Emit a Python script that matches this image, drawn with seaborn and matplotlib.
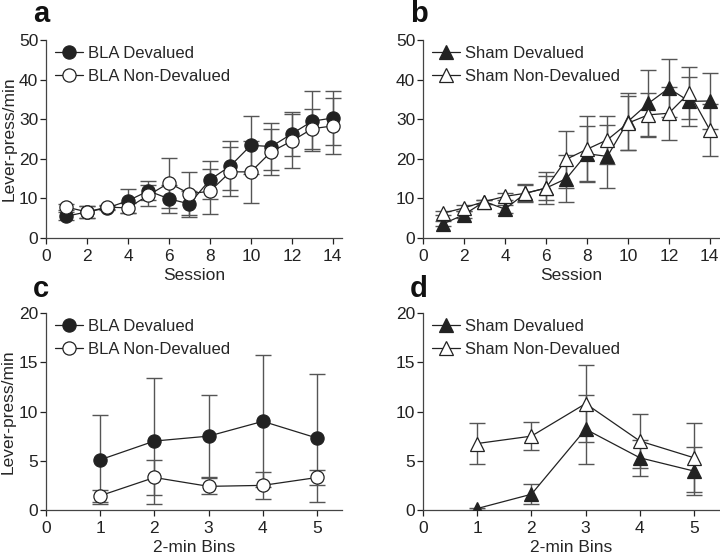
import matplotlib
matplotlib.use("Agg")
import matplotlib.pyplot as plt
import pandas as pd
import seaborn as sns
import numpy as np

sns.set_theme(style="ticks")
plt.rcParams['font.family'] = ['Liberation Sans', 'DejaVu Sans']

# acquisition sessions (panels a, b)
sessions = list(range(1, 15))
bla_dev = [5.5, 6.6, 7.6, 9.4, 11.9, 9.9, 8.6, 14.7, 18.2, 23.4, 23.1, 26.3, 29.5, 30.3]
bla_dev_sem = [1.0, 1.6, 0.5, 3.0, 2.4, 3.6, 3.3, 4.8, 6.2, 7.3, 5.9, 5.5, 7.5, 6.7]
bla_nondev = [7.8, 6.6, 7.8, 7.6, 10.8, 13.9, 11.2, 11.8, 16.7, 16.7, 21.8, 24.5, 27.6, 28.3]
bla_nondev_sem = [0.8, 1.5, 0.6, 1.2, 2.6, 6.3, 5.4, 5.7, 6.2, 7.9, 5.8, 6.9, 5.0, 7.0]

sham_dev = [3.6, 5.9, 9.2, 7.3, 11.3, 12.6, 15.0, 21.3, 20.6, 29.4, 34.0, 37.8, 34.5, 34.6]
sham_dev_sem = [0.6, 0.8, 0.5, 1.0, 2.3, 4.0, 6.0, 7.0, 7.9, 7.2, 8.3, 7.3, 6.2, 7.0]
sham_nondev = [6.3, 7.6, 9.2, 10.5, 11.3, 12.6, 19.9, 22.4, 24.8, 29.0, 31.1, 31.5, 36.7, 27.3]
sham_nondev_sem = [0.5, 0.8, 0.5, 0.8, 2.0, 3.0, 7.2, 8.3, 6.0, 6.8, 5.6, 6.7, 6.6, 6.5]

# extinction test, 2-min bins (panels c, d)
bins = [1, 2, 3, 4, 5]
bla_dev_bin = [5.1, 7.0, 7.5, 9.0, 7.3]
bla_dev_bin_sem = [4.5, 6.4, 4.2, 6.7, 6.5]
bla_nondev_bin = [1.45, 3.3, 2.4, 2.5, 3.3]
bla_nondev_bin_sem = [0.6, 1.8, 0.8, 1.4, 0.8]

sham_dev_bin = [0.15, 1.6, 8.2, 5.3, 3.95]
sham_dev_bin_sem = [0.1, 1.0, 3.5, 1.8, 2.4]
sham_nondev_bin = [6.75, 7.5, 10.8, 7.0, 5.3]
sham_nondev_bin_sem = [2.1, 1.4, 3.9, 2.7, 3.5]

fig = plt.figure(figsize=(7.2, 5.54), dpi=100)
w, h = 296 / 720, 198 / 554
ax_a = fig.add_axes([46 / 720, 316 / 554, w, h])
ax_b = fig.add_axes([423 / 720, 316 / 554, w, h])
ax_c = fig.add_axes([46 / 720, 44 / 554, w, 197 / 554])
ax_d = fig.add_axes([423 / 720, 44 / 554, w, 197 / 554])

ink = "#222222"
err_col = "#555555"


def draw(ax, x, y, sem, label, marker, filled):
    ax.errorbar(x, y, yerr=sem, fmt="none", ecolor=err_col, elinewidth=1,
                capsize=6, capthick=1, zorder=1)
    df = pd.DataFrame({"x": x, "y": y})
    sns.lineplot(data=df, x="x", y="y", ax=ax, color=ink, linewidth=0.9,
                 marker=marker, markersize=9.5 if marker == "o" else 10.5,
                 markerfacecolor=ink if filled else "white",
                 markeredgecolor=ink, markeredgewidth=0.9,
                 label=label, zorder=3)


def style(ax, xmax, ymax, xticks, yticks, xlabel, ylabel, letter):
    ax.set_xlim(0, xmax)
    ax.set_ylim(0, ymax)
    ax.set_xticks(xticks)
    ax.set_yticks(yticks)
    ax.set_xlabel(xlabel, fontsize=12.5, labelpad=3)
    ax.set_ylabel(ylabel, fontsize=12.5, labelpad=2)
    ax.tick_params(labelsize=12.5, length=4, width=0.9, colors=ink)
    ax.tick_params(axis="x", pad=4)
    ax.tick_params(axis="y", pad=1.5)
    sns.despine(ax=ax)
    for s in ["left", "bottom"]:
        ax.spines[s].set_color("#444444")
        ax.spines[s].set_linewidth(0.9)
    ax.legend(loc="upper left", bbox_to_anchor=(-0.01, 1.03), frameon=False,
              fontsize=12, handlelength=1.7, handletextpad=0.3,
              labelspacing=0.5, borderaxespad=0.3)
    ax.text(-0.045, 1.0 + (0.13 if letter in "ab" else 0.12), letter,
            transform=ax.transAxes, fontsize=21, fontweight="bold",
            ha="left", va="center", color="#111111")


draw(ax_a, sessions, bla_dev, bla_dev_sem, "BLA Devalued", "o", True)
draw(ax_a, sessions, bla_nondev, bla_nondev_sem, "BLA Non-Devalued", "o", False)
style(ax_a, 14.45, 50, range(0, 15, 2), range(0, 51, 10), "Session", "Lever-press/min", "a")

draw(ax_b, sessions, sham_dev, sham_dev_sem, "Sham Devalued", "^", True)
draw(ax_b, sessions, sham_nondev, sham_nondev_sem, "Sham Non-Devalued", "^", False)
style(ax_b, 14.45, 50, range(0, 15, 2), range(0, 51, 10), "Session", "", "b")

draw(ax_c, bins, bla_dev_bin, bla_dev_bin_sem, "BLA Devalued", "o", True)
draw(ax_c, bins, bla_nondev_bin, bla_nondev_bin_sem, "BLA Non-Devalued", "o", False)
style(ax_c, 5.46, 20, range(0, 6), range(0, 21, 5), "2-min Bins", "Lever-press/min", "c")

draw(ax_d, bins, sham_dev_bin, sham_dev_bin_sem, "Sham Devalued", "^", True)
draw(ax_d, bins, sham_nondev_bin, sham_nondev_bin_sem, "Sham Non-Devalued", "^", False)
style(ax_d, 5.46, 20, range(0, 6), range(0, 21, 5), "2-min Bins", "", "d")

fig.savefig("out.png", dpi=100)
